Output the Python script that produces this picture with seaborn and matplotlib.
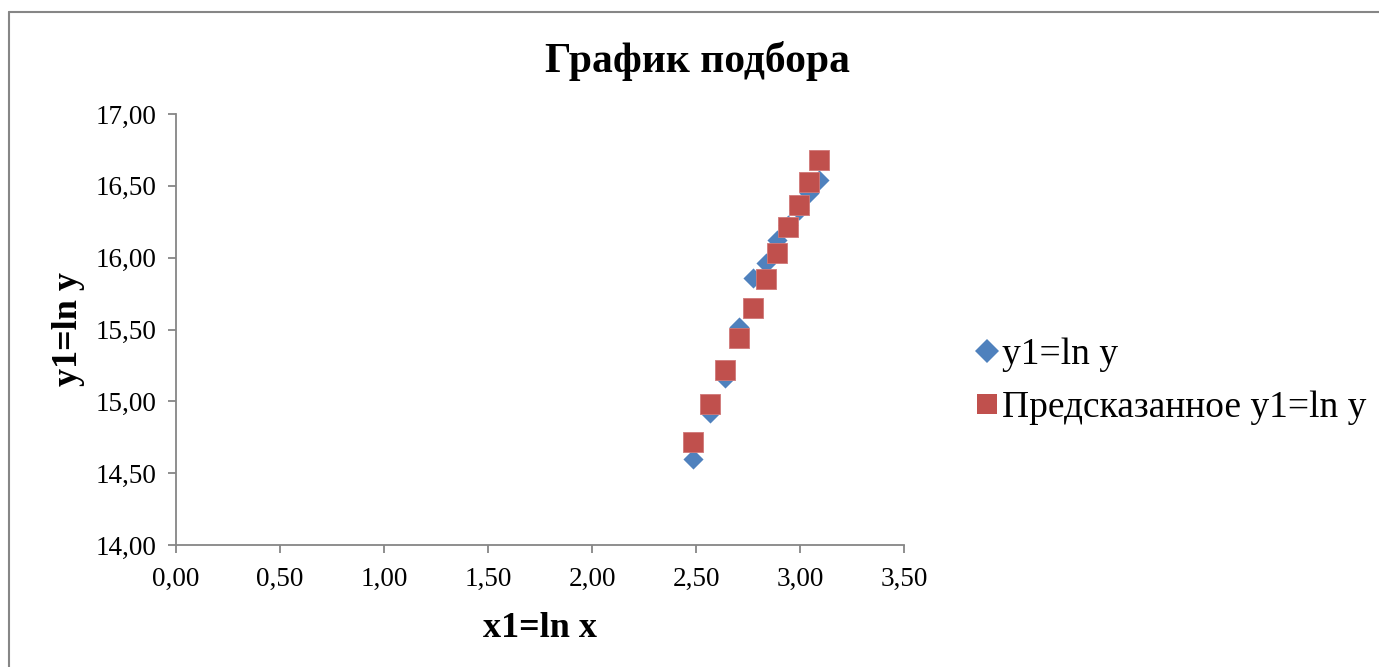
import matplotlib
matplotlib.use("Agg")
import matplotlib.pyplot as plt
import seaborn as sns
import pandas as pd
from matplotlib.lines import Line2D

# Data
x1 = [3.091, 3.045, 2.995, 2.944, 2.891, 2.835, 2.773, 2.708, 2.641, 2.566, 2.484]
y1_actual = [16.54, 16.45, 16.33, 16.23, 16.12, 15.96, 15.86, 15.52, 15.16, 14.92, 14.60]
y1_pred = [16.68, 16.53, 16.37, 16.21, 16.03, 15.85, 15.65, 15.44, 15.22, 14.98, 14.72]
series_names = ["y1=ln y", "Предсказанное y1=ln y"]
xticks = [0.0, 0.5, 1.0, 1.5, 2.0, 2.5, 3.0, 3.5]
yticks = [14.0, 14.5, 15.0, 15.5, 16.0, 16.5, 17.0]

sns.set_style("white")
plt.rcParams["font.family"] = ["Liberation Serif", "DejaVu Serif"]
plt.rcParams["text.color"] = "black"
plt.rcParams["axes.labelcolor"] = "black"
plt.rcParams["xtick.color"] = "black"
plt.rcParams["ytick.color"] = "black"

W, H = 1379, 667
fig = plt.figure(figsize=(W / 100, H / 100), dpi=100)
ax = fig.add_axes([176 / W, 1 - 545 / H, (904 - 176) / W, (545 - 114) / H])

blue = "#4F81BD"
red = "#C0504D"
grey = "#868686"

df = pd.DataFrame({"x": x1, "actual": y1_actual, "pred": y1_pred})
sns.scatterplot(data=df, x="x", y="actual", marker="D", s=105, color=blue,
                edgecolor=blue, linewidth=0, ax=ax, zorder=3)
sns.scatterplot(data=df, x="x", y="pred", marker="s", s=200, color=red,
                edgecolor="#D07878", linewidth=0.6, ax=ax, zorder=4)

ax.set_xlim(0, 3.5)
ax.set_ylim(14, 17)
ax.set_xticks(xticks)
ax.set_yticks(yticks)
fmt = lambda v: f"{v:.2f}".replace(".", ",")
ax.set_xticklabels([fmt(v) for v in xticks], fontsize=19.5)
ax.set_yticklabels([fmt(v) for v in yticks], fontsize=19.5)

for side in ["top", "right"]:
    ax.spines[side].set_visible(False)
for side in ["left", "bottom"]:
    ax.spines[side].set_color(grey)
    ax.spines[side].set_linewidth(1.3)
ax.tick_params(axis="both", direction="out", length=6, width=1.3, color=grey,
               bottom=True, left=True)
ax.tick_params(axis="x", pad=10)
ax.tick_params(axis="y", pad=8)

ax.set_xlabel("x1=ln x", fontsize=26, fontweight="bold", labelpad=14)
ax.set_ylabel("y1=ln y", fontsize=26, fontweight="bold", labelpad=8)

fig.text(698 / W, 1 - 61 / H, "График подбора", fontsize=30, fontweight="bold",
         ha="center", va="center")

handles = [
    Line2D([], [], linestyle="none", marker="D", markersize=12, color=blue, markeredgewidth=0),
    Line2D([], [], linestyle="none", marker="s", markersize=14, color=red, markeredgewidth=0),
]
fig.legend(handles, series_names, loc="center left", bbox_to_anchor=(963 / W, 1 - 381 / H),
           frameon=False, fontsize=27, handlelength=0.5, handletextpad=0.15,
           labelspacing=0.5, borderaxespad=0)

# Chart area border (only top and left edges visible in the crop)
fig.add_artist(Line2D([9 / W, 9 / W], [0, 1 - 12 / H], transform=fig.transFigure,
                      color=grey, linewidth=1.5))
fig.add_artist(Line2D([9 / W, 1], [1 - 12 / H, 1 - 12 / H], transform=fig.transFigure,
                      color=grey, linewidth=1.5))

fig.savefig("out.png", dpi=100)
